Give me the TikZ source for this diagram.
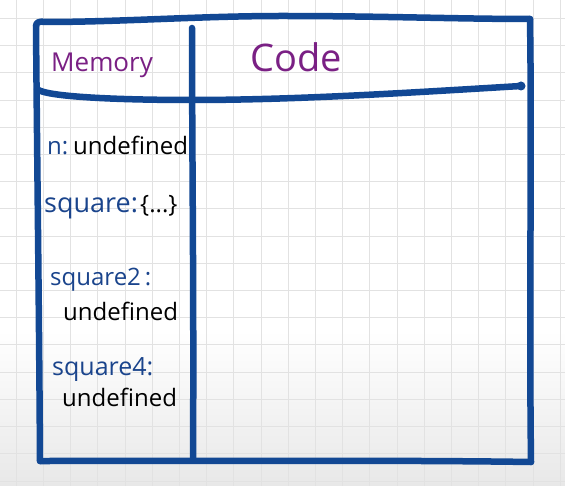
\documentclass[tikz,border=0pt]{standalone}
\usepackage{fontspec}
\setmainfont{Open Sans}
\definecolor{frameblue}{RGB}{18,72,148}
\definecolor{inkblue}{RGB}{26,68,140}
\definecolor{inkpurple}{RGB}{122,32,132}
\definecolor{gridgray}{RGB}{226,226,226}
\tikzset{
  frame/.style={draw=frameblue, line width=6.5pt, line cap=round, line join=round},
  gridline/.style={draw=gridgray, line width=1pt},
  head/.style={text=inkpurple, inner sep=0pt, anchor=base west},
  varname/.style={text=inkblue, inner sep=0pt, anchor=base west, font=\fontsize{24}{24}\selectfont},
  varval/.style={text=black, inner sep=0pt, anchor=base west, font=\fontsize{24}{24}\selectfont},
}
\begin{document}
\begin{tikzpicture}[x=1pt, y=-1pt]
\useasboundingbox (0,0) rectangle (565,486);
% background
\fill[white] (0,0) rectangle (565,486);
\shade[top color=white, bottom color=black!9] (0,330) rectangle (565,486);
% grid
\foreach \i in {0,...,20} { \draw[gridline] ({16.2+27.2*\i},0) -- ({16.2+27.2*\i},486); }
\foreach \j in {0,...,17} { \draw[gridline] (0,{18.6+27.2*\j}) -- (565,{18.6+27.2*\j}); }
% frame
\draw[frame] (36,26) .. controls (36,22) and (40,21) .. (45,22)
  .. controls (120,22) and (200,16) .. (282,16)
  .. controls (380,16) and (460,19) .. (530,19);
\draw[frame] (530,19) .. controls (532,150) and (529,300) .. (531,462);
\draw[frame] (36,26) .. controls (37,150) and (39,300) .. (40,461);
\draw[frame] (40,461) .. controls (200,461) and (400,460) .. (531,462);
\draw[frame] (192,28) .. controls (192,150) and (194,300) .. (193,460);
\draw[frame] (37,89) .. controls (45,97) and (120,100) .. (192,100)
  .. controls (300,100) and (420,92) .. (521,86);
\fill[frameblue] (521,86) circle (4.5pt);
% headers
\node[head, font=\fontsize{26}{26}\selectfont] (mem) at (51,72) {Memory};
\node[head, font=\fontsize{38}{38}\selectfont] (code) at (250,72) {Code};
% memory entries
\node[varname] (n) at (47,155) {n:};
\node[varval] (nval) at (73,155) {undefined};
\node[varname, font=\fontsize{27}{27}\selectfont] (sq) at (44,213) {square:};
\node[varval] (sqval) at (140,213) {\{...\}};
\node[varname] (sq2) at (50,286) {square2\,:};
\node[varval] (sq2val) at (63,321) {undefined};
\node[varname, font=\fontsize{25}{25}\selectfont] (sq4) at (52,375) {square4:};
\node[varval] (sq4val) at (62,406) {undefined};
\end{tikzpicture}
\end{document}
